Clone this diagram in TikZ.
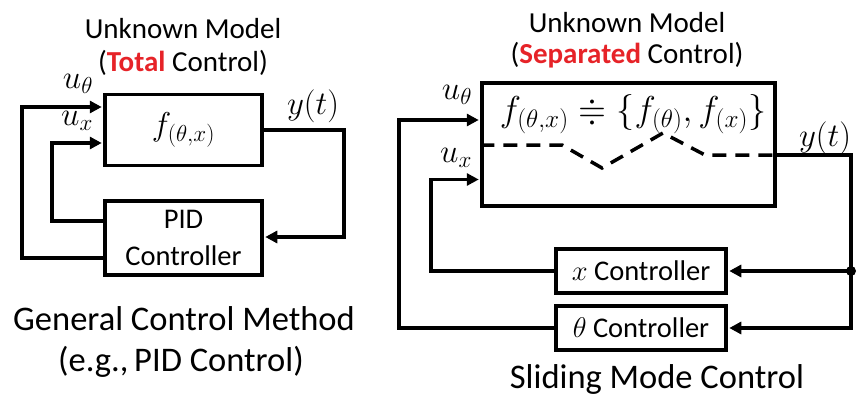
\RequirePackage{fix-cm}
\documentclass[tikz,border=0pt]{standalone}
\DeclareFontFamily{U}{msa}{}
\DeclareFontShape{U}{msa}{m}{n}{<-> msam10}{}
\usepackage{amssymb}
\usepackage{fontspec}
\setmainfont{Carlito}
\usetikzlibrary{arrows.meta}
\definecolor{myred}{RGB}{230,35,40}
\begin{document}
\begin{tikzpicture}[x=1pt,y=-1pt,
  blk/.style={draw,line width=3.5pt,inner sep=0pt,font=\fontsize{28.5}{37}\selectfont},
  wire/.style={line width=3.5pt},
  arr/.style={wire,-{Triangle[length=12pt,width=12pt]},shorten >=1.5pt},
  ttl/.style={anchor=base,inner sep=0pt,font=\fontsize{29}{34}\selectfont},
  captxt/.style={anchor=base,inner sep=0pt,font=\fontsize{34.5}{40}\selectfont},
  mth/.style={inner sep=0pt,font=\fontsize{33}{33}\selectfont},
  ]
\useasboundingbox (0,0) rectangle (857,396);
% ---------- left diagram ----------
\node[ttl] (t1a) at (183,39) {Unknown Model};
\node[ttl] (t1b) at (183,72) {(\textcolor{myred}{\textbf{Total}} Control)};
\node[blk,minimum width=157pt,minimum height=71pt,font=\fontsize{33}{33}\selectfont] (f) at (183.5,130) {$f_{(\theta,x)}$};
\node[blk,minimum width=157pt,minimum height=74pt,align=center] (pid) at (183.5,238) {PID\\Controller};
\coordinate (ltop) at (22,107);
\coordinate (lbot) at (22,258);
\coordinate (xtop) at (52,143);
\coordinate (xbot) at (52,221);
\coordinate (yr1) at (344,130);
\coordinate (yr2) at (344,237);
\draw[arr] (pid.west |- lbot) -- (lbot) -- (ltop) -- (f.west |- ltop);
\draw[arr] (pid.west |- xbot) -- (xbot) -- (xtop) -- (f.west |- xtop);
\draw[arr] (f.east |- yr1) -- (yr1) -- (yr2) -- (pid.east |- yr2);
\node[mth] (uth1) at (78,84) {$u_\theta$};
\node[mth] (ux1) at (77,121) {$u_x$};
\node[mth] (yt1) at (313,106) {$y(t)$};
\node[captxt] (c1a) at (184,330) {General Control Method};
\node[captxt] (c1b) at (181,371) {(e.g.,\,PID Control)};
% ---------- right diagram ----------
\node[ttl] (t2a) at (627,33) {Unknown Model};
\node[ttl] (t2b) at (627,64) {(\textcolor{myred}{\textbf{Separated}} Control)};
\node[blk,minimum width=293pt,minimum height=123pt] (F) at (628.5,144.5) {};
\node[inner sep=0pt,font=\fontsize{36}{36}\selectfont] (form) at (633,114) {$f_{(\theta,x)} \doteqdot \{f_{(\theta)},f_{(x)}\}$};
\node[blk,minimum width=170pt,minimum height=44pt] (xc) at (641,271) {$x$ Controller};
\node[blk,minimum width=170pt,minimum height=44pt] (thc) at (641,328) {$\theta$ Controller};
\coordinate (rth) at (399,120);
\coordinate (rx) at (431,179.5);
\coordinate (ytop) at (851,155);
\coordinate (ybr) at (851,271);
\coordinate (ybot) at (851,328);
\coordinate (z1) at (562,145);
\coordinate (z2) at (602,168);
\coordinate (z3) at (663,133);
\coordinate (z4) at (705,155);
\draw[wire,dash pattern=on 14pt off 9pt] (F.west |- z1) -- (z1) -- (z2) -- (z3) -- (z4) -- (F.east |- z4);
\draw[arr] (F.east |- ytop) -- (ytop) -- (ybot) -- (thc.east |- ybot);
\draw[arr] (ybr) -- (xc.east |- ybr);
\fill (ybr) circle (5pt);
\draw[arr] (thc.west) -| (rth) -- (F.west |- rth);
\draw[arr] (xc.west) -| (rx) -- (F.west |- rx);
\node[mth] (uth2) at (457,95) {$u_\theta$};
\node[mth] (ux2) at (456,158) {$u_x$};
\node[mth] (yt2) at (825,138) {$y(t)$};
\node[captxt] (c2) at (657,388) {Sliding Mode Control};
\end{tikzpicture}
\end{document}
